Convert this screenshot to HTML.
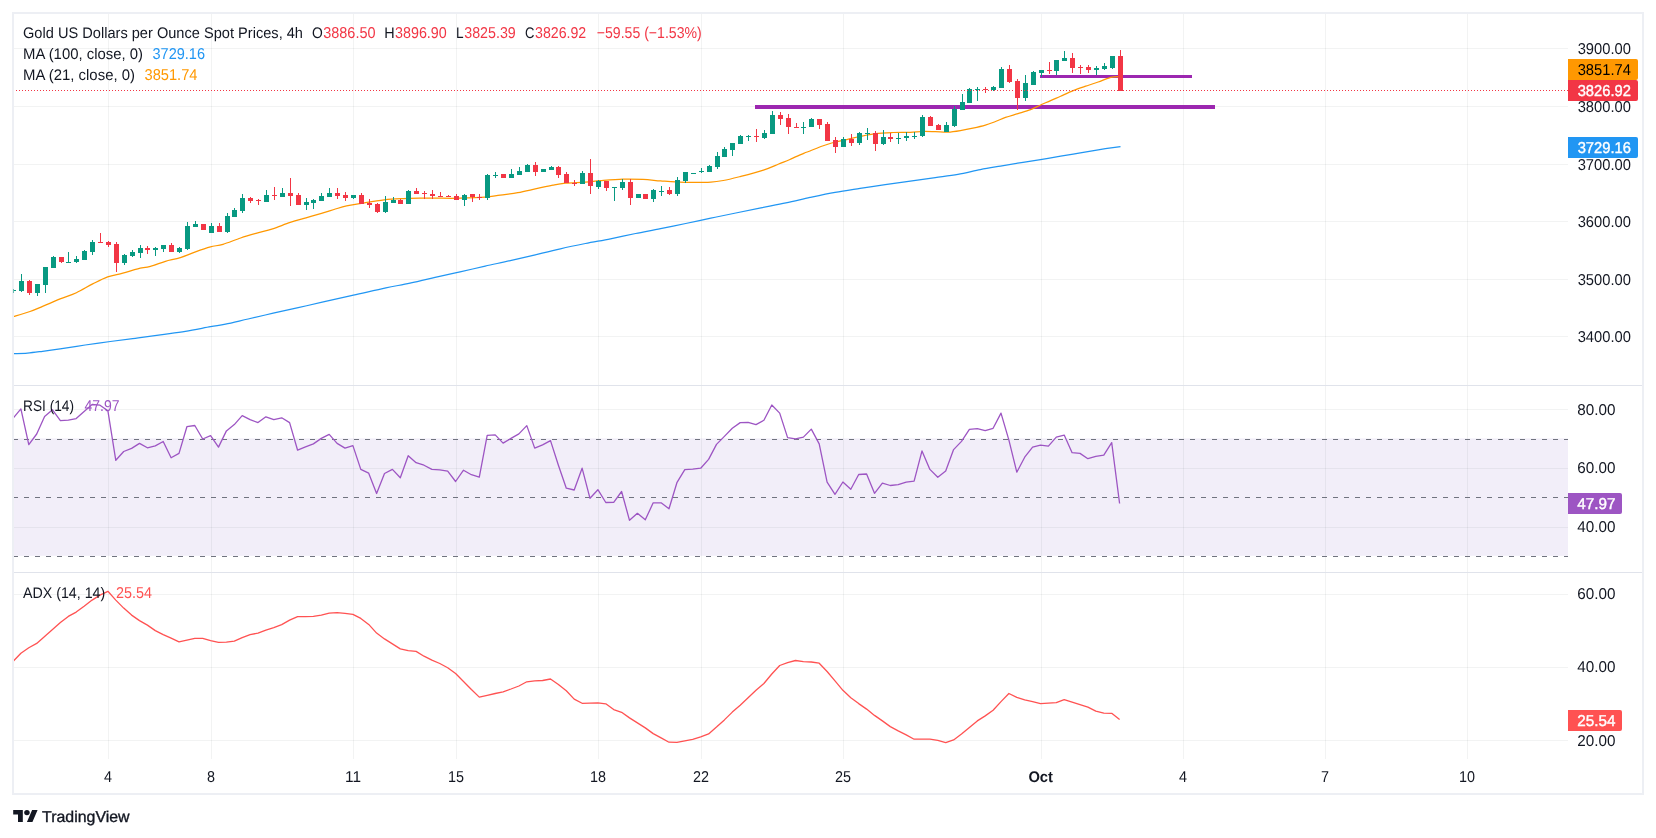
<!DOCTYPE html>
<html><head><meta charset="utf-8"><title>Gold chart</title>
<style>html,body{margin:0;padding:0;background:#fff}body{width:1656px;height:838px;overflow:hidden}</style></head>
<body>
<svg width="1656" height="838" viewBox="0 0 1656 838" style="display:block;will-change:transform;opacity:0.9999">
<rect width="1656" height="838" fill="#fff"/>
<rect x="13" y="438.4" width="1555" height="117.4" fill="#f2eef9"/>
<g fill="#2a2e39" fill-opacity="0.06" shape-rendering="crispEdges"><rect x="108" y="12" width="1" height="747"/><rect x="211" y="12" width="1" height="747"/><rect x="353" y="12" width="1" height="747"/><rect x="456" y="12" width="1" height="747"/><rect x="598" y="12" width="1" height="747"/><rect x="701" y="12" width="1" height="747"/><rect x="843" y="12" width="1" height="747"/><rect x="1041" y="12" width="1" height="747"/><rect x="1183" y="12" width="1" height="747"/><rect x="1325" y="12" width="1" height="747"/><rect x="1467" y="12" width="1" height="747"/><rect x="13" y="48" width="1555" height="1"/><rect x="13" y="106" width="1555" height="1"/><rect x="13" y="164" width="1555" height="1"/><rect x="13" y="221" width="1555" height="1"/><rect x="13" y="279" width="1555" height="1"/><rect x="13" y="336" width="1555" height="1"/><rect x="13" y="409" width="1555" height="1"/><rect x="13" y="468" width="1555" height="1"/><rect x="13" y="527" width="1555" height="1"/><rect x="13" y="594" width="1555" height="1"/><rect x="13" y="667" width="1555" height="1"/><rect x="13" y="740" width="1555" height="1"/></g>
<line x1="13" y1="439.5" x2="1568" y2="439.5" stroke="#70737f" stroke-width="1" stroke-dasharray="5 6" shape-rendering="crispEdges"/>
<line x1="13" y1="497.5" x2="1568" y2="497.5" stroke="#70737f" stroke-width="1" stroke-dasharray="5 6" shape-rendering="crispEdges"/>
<line x1="13" y1="556.5" x2="1568" y2="556.5" stroke="#70737f" stroke-width="1" stroke-dasharray="5 6" shape-rendering="crispEdges"/>
<rect x="755" y="105" width="460" height="4" fill="#9c27b0"/>
<rect x="1040" y="75" width="152" height="3" fill="#9c27b0"/>
<path d="M13.5,353.6 C15.8,353.5 22.6,353.5 27.5,353.1 C32.4,352.7 37.2,352.0 42.6,351.3 C48.0,350.6 53.0,349.9 60.1,348.8 C67.2,347.8 76.8,346.2 85.2,345.0 C93.6,343.8 101.9,342.6 110.3,341.5 C118.7,340.4 127.0,339.4 135.3,338.3 C143.7,337.2 152.1,336.0 160.4,334.8 C168.8,333.6 177.1,332.7 185.4,331.3 C193.8,329.9 203.8,327.9 210.5,326.7 C217.2,325.5 219.2,325.5 225.5,324.2 C231.8,322.9 240.2,320.8 248.1,319.0 C256.1,317.2 264.8,315.1 273.2,313.2 C281.6,311.3 289.8,309.6 298.2,307.7 C306.6,305.8 314.1,304.0 323.3,301.9 C332.5,299.8 343.0,297.5 353.4,295.2 C363.8,292.9 376.5,289.9 385.9,287.9 C395.3,285.9 401.8,284.9 410.0,283.1 C418.2,281.4 426.8,279.3 435.1,277.4 C443.5,275.5 451.8,273.8 460.1,271.9 C468.5,270.0 476.8,268.0 485.2,266.1 C493.6,264.2 502.0,262.5 510.3,260.6 C518.6,258.7 526.9,256.8 535.3,254.8 C543.6,252.8 552.0,250.7 560.4,248.8 C568.8,246.9 577.0,245.2 585.4,243.5 C593.8,241.8 602.1,240.5 610.5,238.8 C618.9,237.1 627.2,235.2 635.6,233.5 C644.0,231.8 652.2,230.4 660.6,228.7 C669.0,227.0 677.3,225.2 685.7,223.5 C694.1,221.8 702.4,219.9 710.8,218.2 C719.1,216.4 727.4,214.7 735.8,213.0 C744.1,211.3 752.5,209.6 760.9,207.9 C769.2,206.2 777.7,204.7 785.9,202.9 C794.1,201.2 801.8,199.2 810.0,197.4 C818.2,195.7 826.8,193.9 835.1,192.4 C843.5,190.9 851.8,189.7 860.1,188.4 C868.5,187.1 876.8,185.8 885.2,184.6 C893.6,183.4 901.9,182.3 910.3,181.1 C918.6,179.9 927.4,178.7 935.3,177.6 C943.2,176.5 950.4,175.7 957.9,174.4 C965.4,173.1 973.3,171.0 980.4,169.6 C987.5,168.2 993.4,167.3 1000.5,166.1 C1007.6,164.9 1015.1,163.6 1023.0,162.3 C1030.9,161.0 1039.7,159.7 1048.1,158.3 C1056.5,156.9 1064.8,155.5 1073.2,154.1 C1081.6,152.7 1090.3,151.1 1098.2,149.8 C1106.1,148.6 1116.8,147.1 1120.5,146.6" fill="none" stroke="#2196f3" stroke-width="1.25" stroke-linejoin="round"/>
<path d="M13.5,316.5 C16.2,315.7 25.1,313.2 30.0,311.5 C34.9,309.8 37.6,308.5 42.6,306.4 C47.6,304.3 54.5,301.2 60.1,298.9 C65.7,296.6 71.0,295.2 76.4,292.7 C81.8,290.2 87.5,286.5 92.7,283.9 C97.9,281.3 102.7,278.7 107.7,276.9 C112.7,275.1 117.8,274.5 122.8,273.1 C127.8,271.8 133.2,269.9 137.8,268.8 C142.4,267.7 145.8,267.6 150.4,266.3 C155.0,265.1 160.4,262.8 165.4,261.3 C170.4,259.9 175.4,259.2 180.4,257.6 C185.4,256.0 190.5,253.6 195.5,251.8 C200.5,250.0 205.9,248.1 210.5,246.8 C215.1,245.6 218.0,245.8 223.0,244.3 C228.0,242.8 235.1,239.8 240.6,238.0 C246.1,236.2 250.7,234.9 256.0,233.4 C261.3,231.9 266.9,230.7 272.6,228.9 C278.3,227.1 284.6,224.2 290.2,222.4 C295.8,220.6 300.8,219.3 306.0,217.8 C311.2,216.3 316.8,214.7 321.5,213.3 C326.2,211.9 329.8,210.8 334.0,209.5 C338.2,208.2 342.0,206.8 346.6,205.8 C351.2,204.8 355.3,204.3 361.6,203.3 C367.9,202.3 377.3,200.7 384.2,199.9 C391.1,199.1 396.7,198.9 403.0,198.6 C409.3,198.3 416.5,198.2 421.8,198.1 C427.1,198.0 428.6,198.2 435.0,198.2 C441.4,198.2 451.6,198.4 460.0,198.2 C468.4,198.0 478.5,197.7 485.2,197.2 C491.9,196.7 494.8,195.9 500.2,195.2 C505.6,194.4 511.9,193.8 517.8,192.7 C523.6,191.6 529.4,190.2 535.3,188.9 C541.1,187.6 547.9,186.1 552.9,185.1 C557.9,184.1 560.0,183.6 565.4,183.1 C570.8,182.6 579.5,182.5 585.4,182.1 C591.2,181.7 594.2,181.1 600.5,180.6 C606.8,180.1 615.9,179.3 623.0,179.1 C630.1,178.9 636.7,179.1 643.0,179.4 C649.3,179.7 655.1,180.5 660.6,180.9 C666.1,181.3 670.3,181.7 675.7,181.9 C681.1,182.2 687.4,182.4 693.2,182.4 C699.1,182.4 705.8,182.4 710.8,182.1 C715.8,181.8 718.3,181.4 723.3,180.5 C728.3,179.6 734.1,178.1 740.8,176.4 C747.5,174.7 757.1,172.2 763.4,170.1 C769.7,168.0 774.3,165.8 778.7,164.0 C783.1,162.2 785.7,161.3 789.9,159.5 C794.1,157.7 800.4,154.7 803.7,153.3 C807.1,151.9 806.9,152.2 810.0,151.0 C813.1,149.8 818.3,147.5 822.5,146.0 C826.7,144.5 830.9,143.1 835.1,142.0 C839.3,140.9 843.4,140.3 847.6,139.4 C851.8,138.5 855.5,137.5 860.1,136.5 C864.7,135.5 869.8,134.3 875.2,133.6 C880.6,132.9 886.9,132.7 892.7,132.5 C898.6,132.3 905.3,132.5 910.3,132.3 C915.3,132.1 918.6,131.6 922.8,131.5 C927.0,131.4 931.1,131.6 935.3,131.7 C939.5,131.8 943.6,132.4 947.8,132.2 C952.0,132.0 956.2,131.3 960.4,130.6 C964.6,129.9 968.7,129.1 972.9,128.2 C977.1,127.3 981.6,126.3 985.4,125.2 C989.2,124.1 992.1,122.8 995.5,121.5 C998.9,120.2 1001.8,118.7 1005.5,117.4 C1009.2,116.1 1013.8,114.9 1018.0,113.6 C1022.2,112.3 1026.8,111.0 1030.6,109.6 C1034.4,108.2 1037.3,106.5 1040.6,105.0 C1043.9,103.5 1047.3,102.1 1050.6,100.6 C1053.9,99.1 1056.8,97.9 1060.6,96.2 C1064.4,94.5 1069.0,92.3 1073.2,90.6 C1077.4,88.9 1081.5,87.6 1085.7,86.2 C1089.9,84.8 1094.0,83.5 1098.2,82.0 C1102.4,80.5 1107.1,78.2 1110.8,77.3 C1114.5,76.4 1118.9,76.6 1120.5,76.4" fill="none" stroke="#ff9800" stroke-width="1.25" stroke-linejoin="round"/>
<g fill="#089981" shape-rendering="crispEdges"><rect x="13" y="290" width="3" height="1"/><rect x="13" y="289" width="1" height="4"/><rect x="19" y="281" width="5" height="10"/><rect x="21" y="274" width="1" height="18"/><rect x="35" y="284" width="5" height="9"/><rect x="37" y="284" width="1" height="12"/><rect x="43" y="267" width="5" height="18"/><rect x="45" y="267" width="1" height="26"/><rect x="51" y="257" width="5" height="11"/><rect x="53" y="256" width="1" height="12"/><rect x="66" y="262" width="5" height="1"/><rect x="68" y="252" width="1" height="11"/><rect x="74" y="259" width="5" height="3"/><rect x="76" y="256" width="1" height="7"/><rect x="82" y="251" width="5" height="9"/><rect x="84" y="250" width="1" height="10"/><rect x="90" y="242" width="5" height="10"/><rect x="92" y="240" width="1" height="15"/><rect x="122" y="255" width="5" height="8"/><rect x="124" y="254" width="1" height="11"/><rect x="130" y="252" width="5" height="4"/><rect x="132" y="250" width="1" height="7"/><rect x="138" y="248" width="5" height="5"/><rect x="140" y="245" width="1" height="13"/><rect x="153" y="248" width="5" height="2"/><rect x="155" y="247" width="1" height="9"/><rect x="161" y="245" width="5" height="4"/><rect x="163" y="245" width="1" height="7"/><rect x="177" y="248" width="5" height="4"/><rect x="179" y="247" width="1" height="6"/><rect x="185" y="226" width="5" height="23"/><rect x="187" y="222" width="1" height="28"/><rect x="193" y="224" width="5" height="3"/><rect x="195" y="221" width="1" height="6"/><rect x="209" y="226" width="5" height="7"/><rect x="211" y="223" width="1" height="10"/><rect x="225" y="216" width="5" height="16"/><rect x="227" y="213" width="1" height="20"/><rect x="232" y="210" width="5" height="7"/><rect x="234" y="208" width="1" height="9"/><rect x="240" y="198" width="5" height="13"/><rect x="242" y="194" width="1" height="19"/><rect x="264" y="195" width="5" height="7"/><rect x="266" y="190" width="1" height="12"/><rect x="280" y="193" width="5" height="4"/><rect x="282" y="188" width="1" height="9"/><rect x="304" y="202" width="5" height="3"/><rect x="306" y="198" width="1" height="12"/><rect x="311" y="200" width="5" height="3"/><rect x="313" y="199" width="1" height="10"/><rect x="319" y="196" width="5" height="5"/><rect x="321" y="193" width="1" height="8"/><rect x="327" y="193" width="5" height="4"/><rect x="329" y="188" width="1" height="9"/><rect x="351" y="195" width="5" height="3"/><rect x="353" y="195" width="1" height="4"/><rect x="383" y="202" width="5" height="10"/><rect x="385" y="196" width="1" height="17"/><rect x="391" y="200" width="5" height="3"/><rect x="393" y="197" width="1" height="6"/><rect x="406" y="191" width="5" height="13"/><rect x="408" y="190" width="1" height="14"/><rect x="462" y="195" width="5" height="5"/><rect x="464" y="194" width="1" height="12"/><rect x="485" y="175" width="5" height="23"/><rect x="487" y="174" width="1" height="26"/><rect x="493" y="175" width="5" height="1"/><rect x="495" y="172" width="1" height="6"/><rect x="509" y="174" width="5" height="4"/><rect x="511" y="169" width="1" height="9"/><rect x="517" y="171" width="5" height="4"/><rect x="519" y="167" width="1" height="8"/><rect x="525" y="165" width="5" height="7"/><rect x="527" y="164" width="1" height="8"/><rect x="541" y="169" width="5" height="3"/><rect x="543" y="169" width="1" height="3"/><rect x="549" y="167" width="5" height="3"/><rect x="551" y="166" width="1" height="4"/><rect x="580" y="173" width="5" height="11"/><rect x="582" y="171" width="1" height="13"/><rect x="596" y="181" width="5" height="6"/><rect x="598" y="180" width="1" height="9"/><rect x="612" y="187" width="5" height="1"/><rect x="614" y="187" width="1" height="14"/><rect x="620" y="182" width="5" height="6"/><rect x="622" y="179" width="1" height="11"/><rect x="636" y="194" width="5" height="4"/><rect x="638" y="194" width="1" height="4"/><rect x="651" y="190" width="5" height="9"/><rect x="653" y="189" width="1" height="13"/><rect x="659" y="191" width="5" height="1"/><rect x="661" y="186" width="1" height="10"/><rect x="675" y="180" width="5" height="14"/><rect x="677" y="177" width="1" height="19"/><rect x="683" y="172" width="5" height="9"/><rect x="685" y="172" width="1" height="11"/><rect x="691" y="173" width="5" height="1"/><rect x="693" y="173" width="1" height="1"/><rect x="699" y="171" width="5" height="1"/><rect x="701" y="168" width="1" height="5"/><rect x="707" y="166" width="5" height="6"/><rect x="709" y="165" width="1" height="7"/><rect x="715" y="156" width="5" height="11"/><rect x="717" y="152" width="1" height="17"/><rect x="722" y="149" width="5" height="8"/><rect x="724" y="147" width="1" height="10"/><rect x="730" y="143" width="5" height="7"/><rect x="732" y="143" width="1" height="13"/><rect x="738" y="136" width="5" height="8"/><rect x="740" y="135" width="1" height="9"/><rect x="746" y="136" width="5" height="1"/><rect x="748" y="135" width="1" height="6"/><rect x="762" y="133" width="5" height="5"/><rect x="764" y="130" width="1" height="9"/><rect x="770" y="115" width="5" height="19"/><rect x="772" y="111" width="1" height="23"/><rect x="801" y="127" width="5" height="1"/><rect x="803" y="122" width="1" height="12"/><rect x="809" y="119" width="5" height="8"/><rect x="811" y="118" width="1" height="9"/><rect x="841" y="139" width="5" height="8"/><rect x="843" y="137" width="1" height="10"/><rect x="857" y="133" width="5" height="10"/><rect x="859" y="132" width="1" height="13"/><rect x="865" y="133" width="5" height="1"/><rect x="867" y="128" width="1" height="12"/><rect x="881" y="137" width="5" height="7"/><rect x="883" y="130" width="1" height="15"/><rect x="896" y="138" width="5" height="1"/><rect x="898" y="133" width="1" height="11"/><rect x="904" y="136" width="5" height="2"/><rect x="906" y="132" width="1" height="9"/><rect x="912" y="136" width="5" height="1"/><rect x="914" y="132" width="1" height="7"/><rect x="920" y="117" width="5" height="19"/><rect x="922" y="115" width="1" height="22"/><rect x="944" y="125" width="5" height="7"/><rect x="946" y="122" width="1" height="10"/><rect x="952" y="109" width="5" height="17"/><rect x="954" y="106" width="1" height="21"/><rect x="960" y="102" width="5" height="8"/><rect x="962" y="94" width="1" height="16"/><rect x="967" y="89" width="5" height="14"/><rect x="969" y="88" width="1" height="15"/><rect x="975" y="89" width="5" height="1"/><rect x="977" y="87" width="1" height="14"/><rect x="991" y="87" width="5" height="3"/><rect x="993" y="86" width="1" height="5"/><rect x="999" y="69" width="5" height="19"/><rect x="1001" y="67" width="1" height="21"/><rect x="1023" y="83" width="5" height="15"/><rect x="1025" y="75" width="1" height="26"/><rect x="1031" y="72" width="5" height="13"/><rect x="1033" y="71" width="1" height="14"/><rect x="1039" y="70" width="5" height="3"/><rect x="1041" y="70" width="1" height="7"/><rect x="1054" y="60" width="5" height="11"/><rect x="1056" y="60" width="1" height="15"/><rect x="1062" y="58" width="5" height="3"/><rect x="1064" y="51" width="1" height="10"/><rect x="1094" y="68" width="5" height="2"/><rect x="1096" y="66" width="1" height="9"/><rect x="1102" y="66" width="5" height="3"/><rect x="1104" y="63" width="1" height="7"/><rect x="1110" y="56" width="5" height="12"/><rect x="1112" y="56" width="1" height="13"/></g>
<g fill="#f23645" shape-rendering="crispEdges"><rect x="27" y="281" width="5" height="12"/><rect x="29" y="280" width="1" height="15"/><rect x="59" y="257" width="5" height="5"/><rect x="61" y="257" width="1" height="6"/><rect x="98" y="242" width="5" height="1"/><rect x="100" y="233" width="1" height="10"/><rect x="106" y="242" width="5" height="3"/><rect x="108" y="241" width="1" height="6"/><rect x="114" y="244" width="5" height="19"/><rect x="116" y="242" width="1" height="30"/><rect x="145" y="248" width="5" height="2"/><rect x="147" y="246" width="1" height="8"/><rect x="169" y="245" width="5" height="7"/><rect x="171" y="243" width="1" height="9"/><rect x="201" y="224" width="5" height="6"/><rect x="203" y="224" width="1" height="6"/><rect x="217" y="226" width="5" height="6"/><rect x="219" y="223" width="1" height="9"/><rect x="248" y="198" width="5" height="3"/><rect x="250" y="197" width="1" height="6"/><rect x="256" y="200" width="5" height="1"/><rect x="258" y="199" width="1" height="6"/><rect x="272" y="195" width="5" height="1"/><rect x="274" y="187" width="1" height="13"/><rect x="288" y="193" width="5" height="3"/><rect x="290" y="178" width="1" height="28"/><rect x="296" y="195" width="5" height="10"/><rect x="298" y="193" width="1" height="12"/><rect x="335" y="193" width="5" height="3"/><rect x="337" y="188" width="1" height="11"/><rect x="343" y="195" width="5" height="3"/><rect x="345" y="192" width="1" height="9"/><rect x="359" y="195" width="5" height="9"/><rect x="361" y="193" width="1" height="11"/><rect x="367" y="203" width="5" height="2"/><rect x="369" y="199" width="1" height="9"/><rect x="375" y="204" width="5" height="8"/><rect x="377" y="203" width="1" height="10"/><rect x="398" y="200" width="5" height="4"/><rect x="400" y="199" width="1" height="5"/><rect x="414" y="191" width="5" height="3"/><rect x="416" y="188" width="1" height="6"/><rect x="422" y="193" width="5" height="1"/><rect x="424" y="191" width="1" height="8"/><rect x="430" y="194" width="5" height="2"/><rect x="432" y="190" width="1" height="9"/><rect x="438" y="196" width="5" height="1"/><rect x="440" y="192" width="1" height="5"/><rect x="446" y="196" width="5" height="1"/><rect x="448" y="195" width="1" height="2"/><rect x="454" y="196" width="5" height="4"/><rect x="456" y="194" width="1" height="6"/><rect x="470" y="194" width="5" height="3"/><rect x="472" y="194" width="1" height="8"/><rect x="477" y="197" width="5" height="1"/><rect x="479" y="194" width="1" height="6"/><rect x="501" y="174" width="5" height="4"/><rect x="503" y="174" width="1" height="4"/><rect x="533" y="165" width="5" height="7"/><rect x="535" y="162" width="1" height="14"/><rect x="556" y="167" width="5" height="8"/><rect x="558" y="166" width="1" height="12"/><rect x="564" y="174" width="5" height="9"/><rect x="566" y="172" width="1" height="11"/><rect x="572" y="183" width="5" height="1"/><rect x="574" y="180" width="1" height="6"/><rect x="588" y="173" width="5" height="13"/><rect x="590" y="159" width="1" height="35"/><rect x="604" y="181" width="5" height="7"/><rect x="606" y="181" width="1" height="10"/><rect x="628" y="182" width="5" height="16"/><rect x="630" y="179" width="1" height="26"/><rect x="643" y="194" width="5" height="5"/><rect x="645" y="194" width="1" height="5"/><rect x="667" y="190" width="5" height="4"/><rect x="669" y="187" width="1" height="8"/><rect x="754" y="136" width="5" height="1"/><rect x="756" y="129" width="1" height="13"/><rect x="778" y="115" width="5" height="4"/><rect x="780" y="112" width="1" height="13"/><rect x="786" y="118" width="5" height="9"/><rect x="788" y="114" width="1" height="20"/><rect x="794" y="127" width="5" height="1"/><rect x="796" y="123" width="1" height="5"/><rect x="817" y="119" width="5" height="6"/><rect x="819" y="119" width="1" height="10"/><rect x="825" y="124" width="5" height="17"/><rect x="827" y="122" width="1" height="19"/><rect x="833" y="140" width="5" height="7"/><rect x="835" y="137" width="1" height="16"/><rect x="849" y="139" width="5" height="4"/><rect x="851" y="134" width="1" height="12"/><rect x="873" y="133" width="5" height="11"/><rect x="875" y="131" width="1" height="20"/><rect x="888" y="137" width="5" height="2"/><rect x="890" y="133" width="1" height="9"/><rect x="928" y="117" width="5" height="9"/><rect x="930" y="116" width="1" height="10"/><rect x="936" y="125" width="5" height="5"/><rect x="938" y="124" width="1" height="6"/><rect x="983" y="89" width="5" height="1"/><rect x="985" y="87" width="1" height="6"/><rect x="1007" y="69" width="5" height="13"/><rect x="1009" y="65" width="1" height="18"/><rect x="1015" y="81" width="5" height="17"/><rect x="1017" y="79" width="1" height="31"/><rect x="1047" y="70" width="5" height="1"/><rect x="1049" y="62" width="1" height="12"/><rect x="1070" y="58" width="5" height="10"/><rect x="1072" y="53" width="1" height="20"/><rect x="1078" y="67" width="5" height="1"/><rect x="1080" y="65" width="1" height="9"/><rect x="1086" y="67" width="5" height="3"/><rect x="1088" y="65" width="1" height="8"/><rect x="1118" y="56" width="5" height="35"/><rect x="1120" y="50" width="1" height="41"/></g>
<line x1="13" y1="90.5" x2="1568" y2="90.5" stroke="#f23645" stroke-width="1" stroke-dasharray="1 2" stroke-dashoffset="0" shape-rendering="crispEdges"/>
<path d="M13.0,418.3 L20.9,408.9 L28.8,444.6 L36.7,434.0 L44.6,416.4 L52.5,409.8 L60.4,420.6 L68.3,420.2 L76.2,418.6 L84.1,411.4 L92.1,404.5 L100.0,405.2 L107.9,410.8 L115.8,460.3 L123.7,451.5 L131.6,448.4 L139.5,443.4 L147.4,447.8 L155.3,445.9 L163.2,441.5 L171.1,457.8 L179.0,453.4 L186.9,426.7 L194.8,425.5 L202.7,439.0 L210.6,435.6 L218.5,447.1 L226.4,430.9 L234.3,424.6 L242.2,415.6 L250.1,419.6 L258.0,422.6 L265.9,416.8 L273.8,419.6 L281.7,417.8 L289.6,422.6 L297.6,450.2 L305.5,446.9 L313.4,443.9 L321.3,438.4 L329.2,434.4 L337.1,443.4 L345.0,448.1 L352.9,445.6 L360.8,469.4 L368.7,473.2 L376.6,493.5 L384.5,473.5 L392.4,469.4 L400.3,477.7 L408.2,455.7 L416.1,462.7 L424.0,465.2 L431.9,469.4 L439.8,469.9 L447.7,471.2 L455.6,481.5 L463.5,470.2 L471.4,474.7 L479.3,477.2 L487.2,435.4 L495.2,434.9 L503.1,443.1 L511.0,438.4 L518.9,433.9 L526.8,425.6 L534.7,448.1 L542.6,444.9 L550.5,440.6 L558.4,465.2 L566.3,488.2 L574.2,490.0 L582.1,468.2 L590.0,498.3 L597.9,489.7 L605.8,502.5 L613.7,502.3 L621.6,491.5 L629.5,520.3 L637.4,513.3 L645.3,519.8 L653.2,502.8 L661.1,502.8 L669.0,508.8 L676.9,482.7 L684.8,469.7 L692.7,469.2 L700.7,468.2 L708.6,459.4 L716.5,444.4 L724.4,436.4 L732.3,428.3 L740.2,422.6 L748.1,422.3 L756.0,424.6 L763.9,420.3 L771.8,405.0 L779.7,413.1 L787.6,437.6 L795.5,438.9 L803.4,437.1 L811.3,429.1 L819.2,443.9 L827.1,482.2 L835.0,494.3 L842.9,482.0 L850.8,489.2 L858.7,474.5 L866.6,474.0 L874.5,493.3 L882.4,483.2 L890.3,485.5 L898.2,484.7 L906.2,482.2 L914.1,481.2 L922.0,450.9 L929.9,469.4 L937.8,477.2 L945.7,471.0 L953.6,449.6 L961.5,441.4 L969.4,429.3 L977.3,428.6 L985.2,430.6 L993.1,428.3 L1001.0,413.1 L1008.9,440.1 L1016.8,472.2 L1024.7,457.2 L1032.6,447.1 L1040.5,445.1 L1048.4,446.1 L1056.3,437.1 L1064.2,435.1 L1072.1,452.7 L1080.0,453.4 L1087.9,458.7 L1095.8,456.4 L1103.8,455.2 L1111.7,442.6 L1119.6,503.5" fill="none" stroke="#9d55c3" stroke-width="1.3" stroke-linejoin="round"/>
<path d="M13.0,661.5 L20.9,653.2 L28.8,647.7 L36.7,643.4 L44.6,636.4 L52.5,629.6 L60.4,622.6 L68.3,616.4 L76.2,612.1 L84.1,606.3 L92.1,600.1 L100.0,595.1 L107.9,591.3 L115.8,600.1 L123.7,608.1 L131.6,615.1 L139.5,620.6 L147.4,625.1 L155.3,630.6 L163.2,634.6 L171.1,638.2 L179.0,641.9 L186.9,640.2 L194.8,638.4 L202.7,638.4 L210.6,640.7 L218.5,642.4 L226.4,642.2 L234.3,641.2 L242.2,637.7 L250.1,634.6 L258.0,633.1 L265.9,630.1 L273.8,627.6 L281.7,624.6 L289.6,620.1 L297.6,616.6 L305.5,616.6 L313.4,616.4 L321.3,615.1 L329.2,613.1 L337.1,612.6 L345.0,613.3 L352.9,614.3 L360.8,618.4 L368.7,624.4 L376.6,633.1 L384.5,638.9 L392.4,643.9 L400.3,648.9 L408.2,650.7 L416.1,651.4 L424.0,656.2 L431.9,660.2 L439.8,663.5 L447.7,667.7 L455.6,673.5 L463.5,681.5 L471.4,689.5 L479.3,697.1 L487.2,695.3 L495.2,693.5 L503.1,691.8 L511.0,689.0 L518.9,686.0 L526.8,681.8 L534.7,680.8 L542.6,680.5 L550.5,679.0 L558.4,684.5 L566.3,690.8 L574.2,699.1 L582.1,703.3 L590.0,703.1 L597.9,702.8 L605.8,703.8 L613.7,709.6 L621.6,712.3 L629.5,717.9 L637.4,722.9 L645.3,727.9 L653.2,733.6 L661.1,737.9 L669.0,742.2 L676.9,742.4 L684.8,740.9 L692.7,739.4 L700.7,736.9 L708.6,733.9 L716.5,727.1 L724.4,719.9 L732.3,712.1 L740.2,705.3 L748.1,697.8 L756.0,690.3 L763.9,683.5 L771.8,674.0 L779.7,665.5 L787.6,662.7 L795.5,660.5 L803.4,661.7 L811.3,662.0 L819.2,663.2 L827.1,671.5 L835.0,680.8 L842.9,690.3 L850.8,697.8 L858.7,703.6 L866.6,709.1 L874.5,715.4 L882.4,720.9 L890.3,726.6 L898.2,730.9 L906.2,734.9 L914.1,739.2 L922.0,739.2 L929.9,739.2 L937.8,740.4 L945.7,742.7 L953.6,739.9 L961.5,734.1 L969.4,727.4 L977.3,720.9 L985.2,715.9 L993.1,710.3 L1001.0,701.6 L1008.9,693.5 L1016.8,697.3 L1024.7,699.8 L1032.6,701.6 L1040.5,703.6 L1048.4,703.1 L1056.3,702.6 L1064.2,699.6 L1072.1,702.1 L1080.0,704.6 L1087.9,707.1 L1095.8,711.1 L1103.8,713.1 L1111.7,713.3 L1119.6,719.6" fill="none" stroke="#ff5252" stroke-width="1.3" stroke-linejoin="round"/>
<g fill="#e0e3eb" shape-rendering="crispEdges">
<rect x="13" y="385" width="1630" height="1"/>
<rect x="13" y="572" width="1630" height="1"/>
</g>
<rect x="13" y="13" width="1630" height="781" fill="none" stroke="#edeff4" stroke-width="2"/>
<rect x="13" y="289" width="1" height="4" fill="#089981" fill-opacity="0.6" shape-rendering="crispEdges"/>
<g font-family="Liberation Sans, sans-serif" text-rendering="geometricPrecision">
<text x="23" y="37.9" font-size="15.25" fill="#131722" textLength="280" lengthAdjust="spacingAndGlyphs">Gold US Dollars per Ounce Spot Prices, 4h</text>
<text x="311.9" y="37.9" font-size="15.25" fill="#131722" textLength="10.8" lengthAdjust="spacingAndGlyphs">O</text>
<text x="323.25" y="37.9" font-size="15.75" fill="#f23645" textLength="52.25" lengthAdjust="spacingAndGlyphs">3886.50</text>
<text x="384.2" y="37.9" font-size="15.25" fill="#131722" textLength="10.4" lengthAdjust="spacingAndGlyphs">H</text>
<text x="395" y="37.9" font-size="15.75" fill="#f23645" textLength="51.75" lengthAdjust="spacingAndGlyphs">3896.90</text>
<text x="456" y="37.9" font-size="15.25" fill="#131722" textLength="7.6" lengthAdjust="spacingAndGlyphs">L</text>
<text x="464.25" y="37.9" font-size="15.75" fill="#f23645" textLength="51.5" lengthAdjust="spacingAndGlyphs">3825.39</text>
<text x="525" y="37.9" font-size="15.25" fill="#131722" textLength="9.4" lengthAdjust="spacingAndGlyphs">C</text>
<text x="535" y="37.9" font-size="15.75" fill="#f23645" textLength="51.25" lengthAdjust="spacingAndGlyphs">3826.92</text>
<text x="596.75" y="37.9" font-size="15.75" fill="#f23645" textLength="105" lengthAdjust="spacingAndGlyphs">−59.55 (−1.53%)</text>
<text x="23" y="58.9" font-size="15.25" fill="#131722" textLength="120" lengthAdjust="spacingAndGlyphs">MA (100, close, 0)</text>
<text x="152.5" y="58.9" font-size="15.75" fill="#2196f3" textLength="52.5" lengthAdjust="spacingAndGlyphs">3729.16</text>
<text x="23" y="79.9" font-size="15.25" fill="#131722" textLength="112" lengthAdjust="spacingAndGlyphs">MA (21, close, 0)</text>
<text x="144.5" y="79.9" font-size="15.75" fill="#ff9800" textLength="53" lengthAdjust="spacingAndGlyphs">3851.74</text>
<text x="23" y="410.8" font-size="15.25" fill="#131722" textLength="51" lengthAdjust="spacingAndGlyphs">RSI (14)</text>
<text x="84.4" y="410.8" font-size="15.75" fill="#9d55c3" textLength="35.1" lengthAdjust="spacingAndGlyphs">47.97</text>
<text x="23" y="597.8" font-size="15.25" fill="#131722" textLength="82.2" lengthAdjust="spacingAndGlyphs">ADX (14, 14)</text>
<text x="116" y="597.8" font-size="15.75" fill="#ff5252" textLength="36" lengthAdjust="spacingAndGlyphs">25.54</text>
<text x="1577.7" y="54.0" font-size="15.75" fill="#131722" textLength="53.2" lengthAdjust="spacingAndGlyphs">3900.00</text>
<text x="1577.7" y="112.1" font-size="15.75" fill="#131722" textLength="53.2" lengthAdjust="spacingAndGlyphs">3800.00</text>
<text x="1577.7" y="170.1" font-size="15.75" fill="#131722" textLength="53.2" lengthAdjust="spacingAndGlyphs">3700.00</text>
<text x="1577.7" y="227.2" font-size="15.75" fill="#131722" textLength="53.2" lengthAdjust="spacingAndGlyphs">3600.00</text>
<text x="1577.7" y="285.1" font-size="15.75" fill="#131722" textLength="53.2" lengthAdjust="spacingAndGlyphs">3500.00</text>
<text x="1577.7" y="342.2" font-size="15.75" fill="#131722" textLength="53.2" lengthAdjust="spacingAndGlyphs">3400.00</text>
<text x="1577.2" y="414.9" font-size="15.75" fill="#131722" textLength="38.2" lengthAdjust="spacingAndGlyphs">80.00</text>
<text x="1577.2" y="473.2" font-size="15.75" fill="#131722" textLength="38.2" lengthAdjust="spacingAndGlyphs">60.00</text>
<text x="1577.2" y="532.1" font-size="15.75" fill="#131722" textLength="38.2" lengthAdjust="spacingAndGlyphs">40.00</text>
<text x="1577.2" y="599.2" font-size="15.75" fill="#131722" textLength="38.2" lengthAdjust="spacingAndGlyphs">60.00</text>
<text x="1577.2" y="672.2" font-size="15.75" fill="#131722" textLength="38.2" lengthAdjust="spacingAndGlyphs">40.00</text>
<text x="1577.2" y="746.3" font-size="15.75" fill="#131722" textLength="38.2" lengthAdjust="spacingAndGlyphs">20.00</text>
<text x="104.0" y="782.3" font-size="15.75" fill="#131722" textLength="8" lengthAdjust="spacingAndGlyphs">4</text>
<text x="207.0" y="782.3" font-size="15.75" fill="#131722" textLength="8" lengthAdjust="spacingAndGlyphs">8</text>
<text x="345.0" y="782.3" font-size="15.75" fill="#131722" textLength="16" lengthAdjust="spacingAndGlyphs">11</text>
<text x="448.0" y="782.3" font-size="15.75" fill="#131722" textLength="16" lengthAdjust="spacingAndGlyphs">15</text>
<text x="590.0" y="782.3" font-size="15.75" fill="#131722" textLength="16" lengthAdjust="spacingAndGlyphs">18</text>
<text x="693.0" y="782.3" font-size="15.75" fill="#131722" textLength="16" lengthAdjust="spacingAndGlyphs">22</text>
<text x="835.0" y="782.3" font-size="15.75" fill="#131722" textLength="16" lengthAdjust="spacingAndGlyphs">25</text>
<text x="1179.0" y="782.3" font-size="15.75" fill="#131722" textLength="8" lengthAdjust="spacingAndGlyphs">4</text>
<text x="1321.0" y="782.3" font-size="15.75" fill="#131722" textLength="8" lengthAdjust="spacingAndGlyphs">7</text>
<text x="1459.0" y="782.3" font-size="15.75" fill="#131722" textLength="16" lengthAdjust="spacingAndGlyphs">10</text>
<text x="1028.4" y="782.3" font-size="15.25" fill="#131722" textLength="24.6" lengthAdjust="spacingAndGlyphs" font-weight="bold">Oct</text>
</g>
<path d="M1568,59 H1636 Q1638,59 1638,61 V78 Q1638,80 1636,80 H1568 Z" fill="#ff9800"/><g font-family="Liberation Sans, sans-serif" text-rendering="geometricPrecision"><text x="1577.7" y="75.0" font-size="15.75" fill="#000" textLength="53.2" lengthAdjust="spacingAndGlyphs">3851.74</text></g>
<path d="M1568,80 H1636 Q1638,80 1638,82 V99 Q1638,101 1636,101 H1568 Z" fill="#f23645"/><g font-family="Liberation Sans, sans-serif" text-rendering="geometricPrecision"><text x="1577.7" y="96.0" font-size="15.75" fill="#fff" textLength="53.2" lengthAdjust="spacingAndGlyphs" stroke="#fff" stroke-width="0.4">3826.92</text></g>
<path d="M1568,137 H1636 Q1638,137 1638,139 V156 Q1638,158 1636,158 H1568 Z" fill="#2196f3"/><g font-family="Liberation Sans, sans-serif" text-rendering="geometricPrecision"><text x="1577.7" y="153.0" font-size="15.75" fill="#fff" textLength="53.2" lengthAdjust="spacingAndGlyphs" stroke="#fff" stroke-width="0.4">3729.16</text></g>
<path d="M1568,493 H1620 Q1622,493 1622,495 V512 Q1622,514 1620,514 H1568 Z" fill="#9d55c3"/><g font-family="Liberation Sans, sans-serif" text-rendering="geometricPrecision"><text x="1577.2" y="509.0" font-size="15.75" fill="#fff" textLength="38.2" lengthAdjust="spacingAndGlyphs" stroke="#fff" stroke-width="0.4">47.97</text></g>
<path d="M1568,710 H1620 Q1622,710 1622,712 V729 Q1622,731 1620,731 H1568 Z" fill="#ff5252"/><g font-family="Liberation Sans, sans-serif" text-rendering="geometricPrecision"><text x="1577.2" y="726.0" font-size="15.75" fill="#fff" textLength="38.2" lengthAdjust="spacingAndGlyphs" stroke="#fff" stroke-width="0.4">25.54</text></g>
<g transform="translate(13.2,807.3) scale(0.687,0.664)" fill="#131722"><path d="M14 22H7V11H0V4h14v18zM28 22h-8l7.5-18h8L28 22z"/><circle cx="20" cy="8" r="4"/></g>
<g font-family="Liberation Sans, sans-serif" text-rendering="geometricPrecision"><text x="42" y="822" font-size="15.7" fill="#131722" textLength="87.6" lengthAdjust="spacingAndGlyphs" stroke="#131722" stroke-width="0.35">TradingView</text></g>
</svg>
</body></html>
